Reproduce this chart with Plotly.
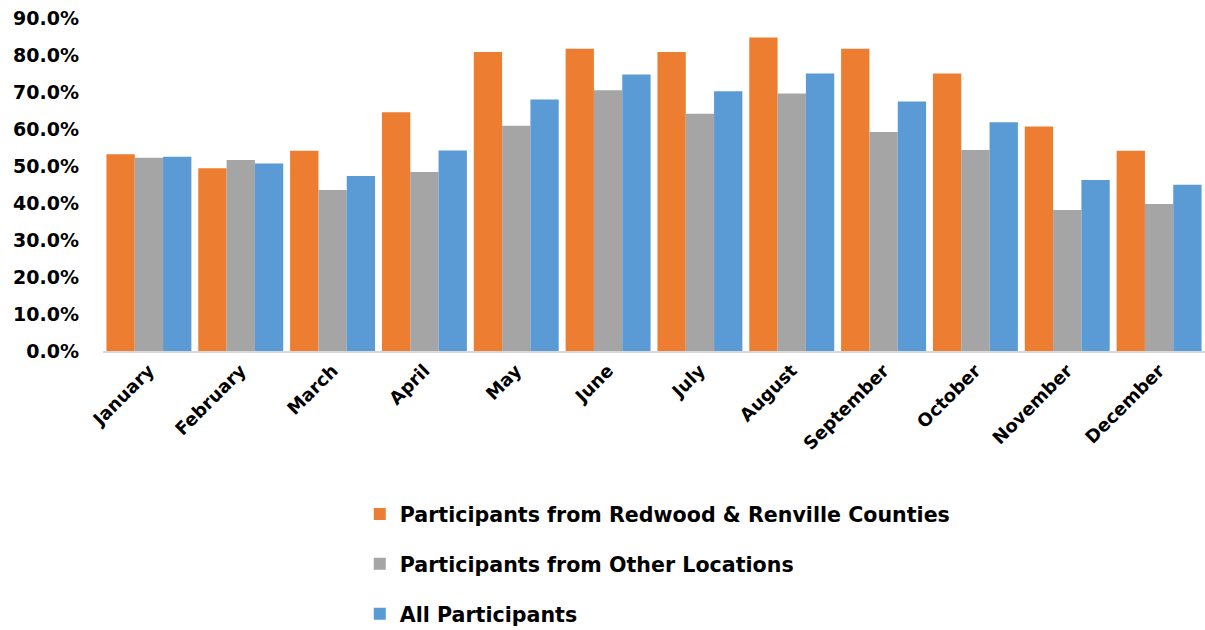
import plotly.graph_objects as go

months = ["January", "February", "March", "April", "May", "June", "July",
          "August", "September", "October", "November", "December"]
redwood_renville = [0.532, 0.494, 0.541, 0.645, 0.808, 0.817, 0.808, 0.847, 0.817, 0.750, 0.607, 0.541]
other_locations = [0.522, 0.516, 0.435, 0.484, 0.609, 0.705, 0.641, 0.696, 0.592, 0.543, 0.381, 0.397]
all_participants = [0.525, 0.507, 0.473, 0.542, 0.680, 0.747, 0.702, 0.750, 0.674, 0.618, 0.462, 0.449]

series_names = ["Participants from Redwood & Renville Counties",
                "Participants from Other Locations",
                "All Participants"]
colors = ["#ED7D31", "#A5A5A5", "#5B9BD5"]

FONT = "DejaVu Sans"

fig = go.Figure()
for i, (name, vals, col) in enumerate(zip(series_names,
                                           [redwood_renville, other_locations, all_participants],
                                           colors)):
    fig.add_trace(go.Bar(x=months, y=vals, name=name, marker=dict(color=col, line=dict(width=0)),
                         legendgroup=f"g{i}"))

fig.update_layout(
    width=1205, height=630,
    margin=dict(l=103, r=0, t=18, b=279, autoexpand=False),
    paper_bgcolor="white", plot_bgcolor="white",
    barmode="group", bargap=0.075, bargroupgap=0,
    font=dict(family=FONT, color="#000000"),
    showlegend=True,
    legend=dict(x=0.233, y=-0.43, xanchor="left", yanchor="top",
                orientation="v", traceorder="grouped", tracegroupgap=20,
                font=dict(family=FONT, size=20.6, color="#000000", weight="bold"),
                bgcolor="rgba(0,0,0,0)"),
)
fig.update_xaxes(showgrid=False, showline=True, linecolor="#D9D9D9", linewidth=2,
                 tickangle=-45, ticks="", automargin=False,
                 tickfont=dict(family=FONT, size=18, color="#000000", weight="bold"))
fig.update_yaxes(range=[0, 0.9], dtick=0.1, tickformat=".1%", showgrid=False,
                 zeroline=False, showline=False, ticks="", automargin=False,
                 ticklabelstandoff=23,
                 tickfont=dict(family=FONT, size=19, color="#000000", weight="bold"))

fig.write_html("out.html")
